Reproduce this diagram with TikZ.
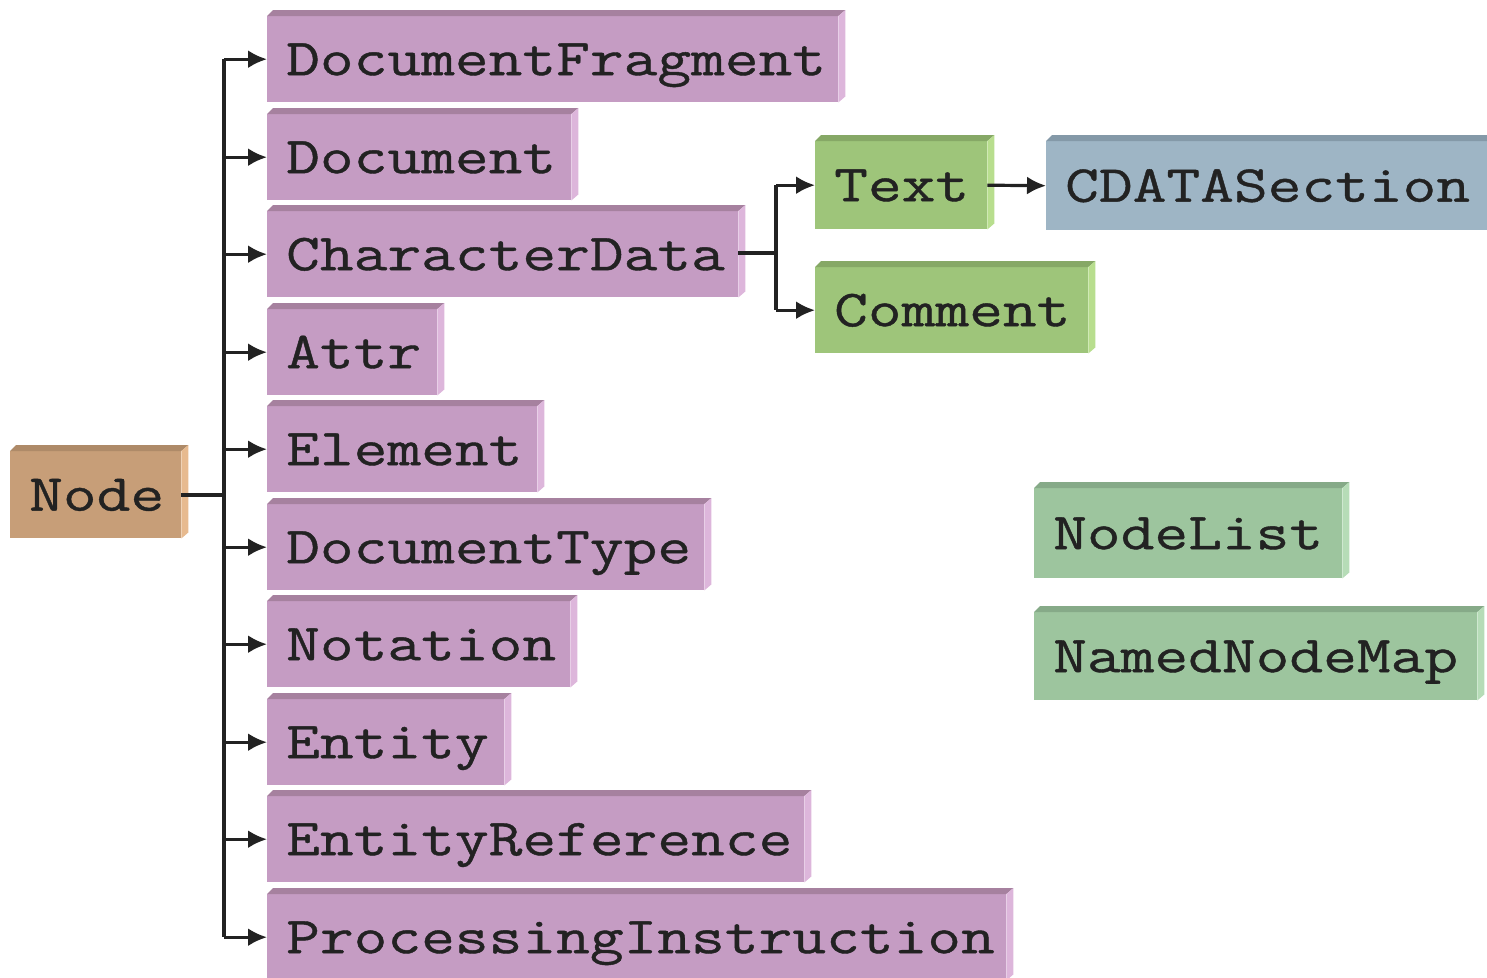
\documentclass[tikz,border=0pt]{standalone}
\usepackage{fontspec}
\newfontfamily\boxfamily[FakeStretch=1.26,FakeBold=0.8]{Latin Modern Mono}
\usetikzlibrary{arrows.meta,calc}

\definecolor{plumface}{HTML}{C59CC3}
\definecolor{plumtop}{HTML}{A6819F}
\definecolor{plumside}{HTML}{DDB6DB}
\definecolor{tanface}{HTML}{C79E78}
\definecolor{tantop}{HTML}{AE8A68}
\definecolor{tanside}{HTML}{E7BA8F}
\definecolor{leafface}{HTML}{9EC57A}
\definecolor{leaftop}{HTML}{86A866}
\definecolor{leafside}{HTML}{B8DE8E}
\definecolor{skyface}{HTML}{9EB5C5}
\definecolor{skytop}{HTML}{8499A8}
\definecolor{skyside}{HTML}{B6CCDC}
\definecolor{mintface}{HTML}{9DC59E}
\definecolor{minttop}{HTML}{86AA88}
\definecolor{mintside}{HTML}{B6DCB7}
\definecolor{ink}{HTML}{222222}

% front face of a bevelled block; width and height given in pt
\tikzset{
  block/.style n args={3}{
    anchor=north west, inner xsep=19pt, inner ysep=0pt,
    minimum width=#1, minimum height=#2, text width=#1-38pt,
    align=left, fill=#3, text=ink,
    font=\fontsize{52pt}{52pt}\boxfamily,
    text height=32pt, text depth=0pt},
  link/.style={draw=ink, line width=3.2pt},
  arrow/.style={link, -{Latex[length=19pt,width=18pt]}}
}

% top and right bevel strips of a block
\newcommand\bevel[3]{%
  \fill[#2] (#1.north west) -- ++(6,-6) -- ($(#1.north east)+(7,-6)$) -- (#1.north east) -- cycle;
  \fill[#3] (#1.north east) -- ++(7,-6) -- ($(#1.south east)+(7,-6)$) -- (#1.south east) -- cycle;
}

\begin{document}
\begin{tikzpicture}[x=1pt,y=-1pt]
\useasboundingbox[fill=white] (0,0) rectangle (1487,977);

% root
\node[block={171pt}{87pt}{tanface}] (node) at (10,451) {Node};
\bevel{node}{tantop}{tanside}

% direct subtypes of Node
\node[block={571pt}{86pt}{plumface}] (df)   at (267,16)  {DocumentFragment};
\node[block={304pt}{86pt}{plumface}] (doc)  at (267,114) {Document};
\node[block={471pt}{86pt}{plumface}] (cd)   at (267,211) {CharacterData};
\node[block={170pt}{86pt}{plumface}] (attr) at (267,309) {Attr};
\node[block={270pt}{86pt}{plumface}] (el)   at (267,406) {Element};
\node[block={437pt}{86pt}{plumface}] (dt)   at (267,504) {DocumentType};
\node[block={303pt}{86pt}{plumface}] (nota) at (267,601) {Notation};
\node[block={237pt}{86pt}{plumface}] (ent)  at (267,699) {Entity};
\node[block={537pt}{86pt}{plumface}] (eref) at (267,796) {EntityReference};
\node[block={739pt}{86pt}{plumface}] (pi)   at (267,894) {ProcessingInstruction};
\foreach \n in {df,doc,cd,attr,el,dt,nota,ent,eref,pi} {\bevel{\n}{plumtop}{plumside}}

% character data subtypes
\node[block={172pt}{88pt}{leafface}] (text) at (815,141) {Text};
\node[block={273pt}{86pt}{leafface}] (com)  at (815,267) {Comment};
\node[block={445pt}{89pt}{skyface}]  (cds)  at (1046,141) {CDATASection};
\bevel{text}{leaftop}{leafside}
\bevel{com}{leaftop}{leafside}
\bevel{cds}{skytop}{skyside}

% collection interfaces
\node[block={308pt}{90pt}{mintface}] (nl)  at (1034,488) {NodeList};
\node[block={443pt}{88pt}{mintface}] (nnm) at (1034,612) {NamedNodeMap};
\bevel{nl}{minttop}{mintside}
\bevel{nnm}{minttop}{mintside}

% Node tree
\coordinate (trunk) at (224,495);
\coordinate (cdfork) at (776,253);
\draw[link] (183,495 -| node.east) -- (trunk);
\draw[link] (df.west -| trunk) -- (pi.west -| trunk);
\foreach \n in {df,doc,cd,attr,el,dt,nota,ent,eref,pi}
  \draw[arrow] (\n.west -| trunk) -- (\n.west);

% CharacterData branch
\draw[link] (cdfork -| cd.east) -- (cdfork);
\draw[link] (text.west -| cdfork) -- (com.west -| cdfork);
\draw[arrow] (text.west -| cdfork) -- (text.west);
\draw[arrow] (com.west -| cdfork) -- (com.west);

% Text to CDATASection
\draw[arrow] (text.east) -- (cds.west);
\end{tikzpicture}
\end{document}
